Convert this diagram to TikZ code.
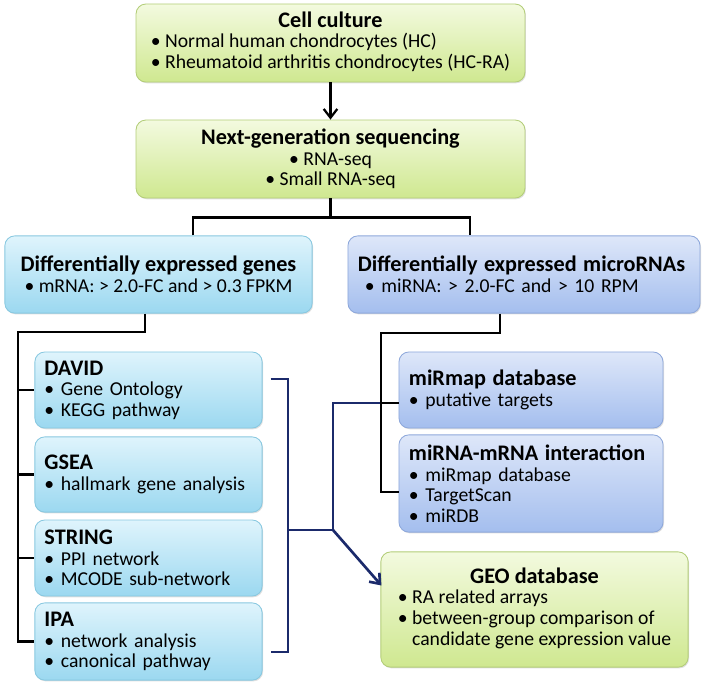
\documentclass[tikz,border=0pt]{standalone}
\usepackage{fontspec}
\setmainfont{Carlito}
\usetikzlibrary{arrows.meta,calc,shadows}
\definecolor{LeafTop}{HTML}{F3FADF}
\definecolor{LeafBot}{HTML}{CFE890}
\definecolor{LeafEdge}{HTML}{B3CD78}
\definecolor{SkyTop}{HTML}{DFF4FC}
\definecolor{SkyBot}{HTML}{9BD8F0}
\definecolor{SkyEdge}{HTML}{88C8E0}
\definecolor{LavTop}{HTML}{DEE7F9}
\definecolor{LavBot}{HTML}{A4BEEE}
\definecolor{LavEdge}{HTML}{8EA8DB}
\definecolor{Navy}{HTML}{1B2A6B}
\newcommand{\hd}[1]{{\fontsize{15.8}{17}\selectfont\bfseries #1}}
\newcommand{\bl}{\textbullet\ }

\begin{document}
\begin{tikzpicture}[x=0.025cm,y=-0.025cm,
    card/.style={rounded corners=7pt,draw,line width=0.6pt,inner sep=0pt,
      font=\fontsize{14}{14.6}\selectfont,
      drop shadow={shadow xshift=0.7pt,shadow yshift=-0.9pt,opacity=0.25}},
    leaf/.style={card,draw=LeafEdge,top color=LeafTop,bottom color=LeafBot},
    sky/.style={card,draw=SkyEdge,top color=SkyTop,bottom color=SkyBot},
    lav/.style={card,draw=LavEdge,top color=LavTop,bottom color=LavBot},
    tree/.style={line width=1.6pt,black},
    link/.style={line width=1.9pt,Navy},
    tip/.style={-{Straight Barb[length=2.2mm,width=3.4mm]}}]
  \useasboundingbox (0,0) rectangle (706,687);

  % top of the flow
  \node[leaf,align=center,minimum width=9.72cm,minimum height=1.95cm] (cell) at (330.5,43)
       {\hd{Cell culture}\\ \begin{tabular}[t]{@{}l@{}}\bl Normal human chondrocytes (HC)\\
        \bl Rheumatoid arthritis chondrocytes (HC-RA)\end{tabular}};
  \node[leaf,align=center,minimum width=9.72cm,minimum height=1.95cm] (ngs) at (330.5,159)
       {\hd{Next-generation sequencing}\\ \bl RNA-seq\\ \bl Small RNA-seq};

  % the two branches
  \node[sky,align=center,minimum width=7.68cm,minimum height=1.93cm] (deg) at (158.5,274.5)
       {\hd{Differentially expressed genes}\\ \bl mRNA: > 2.0-FC and > 0.3 FPKM};
  \node[lav,align=left,text width=8.3cm,minimum width=8.8cm,minimum height=1.93cm] (dem) at (524,274.5)
       {\hd{Differentially expressed microRNAs}\\ \hspace*{5pt}\bl miRNA: > 2.0-FC and > 10 RPM};

  % gene tools
  \node[sky,align=left,text width=5.2cm,minimum width=5.68cm,minimum height=1.9cm] (david) at (148.5,390)
       {\hd{DAVID}\\ \bl Gene Ontology\\ \bl KEGG pathway};
  \node[sky,align=left,text width=5.2cm,minimum width=5.68cm,minimum height=1.88cm] (gsea) at (148.5,474.5)
       {\hd{GSEA}\\ \bl hallmark gene analysis};
  \node[sky,align=left,text width=5.2cm,minimum width=5.68cm,minimum height=1.9cm] (string) at (148.5,558)
       {\hd{STRING}\\ \bl PPI network\\ \bl MCODE sub-network};
  \node[sky,align=left,text width=5.2cm,minimum width=5.68cm,minimum height=1.93cm] (ipa) at (148.5,641.5)
       {\hd{IPA}\\ \bl network analysis\\ \bl canonical pathway};

  % microRNA tools
  \node[lav,align=left,text width=6.1cm,minimum width=6.6cm,minimum height=1.9cm] (mirmap) at (531,390)
       {\hd{miRmap database}\\ \bl putative targets};
  \node[lav,align=left,text width=6.1cm,minimum width=6.6cm,minimum height=2.43cm] (inter) at (531,483.5)
       {\hd{miRNA-mRNA interaction}\\ \bl miRmap database\\ \bl TargetScan\\ \bl miRDB};

  \node[leaf,align=center,minimum width=7.68cm,minimum height=2.88cm] (geo) at (534.5,609.5)
       {\hd{GEO database}\\ \begin{tabular}[t]{@{}l@{}}\bl RA related arrays\\
        \bl between-group comparison of\\ \phantom{\textbullet}\ candidate gene expression value\end{tabular}};

  % navy bracket and links
  \coordinate (btop) at ($(david.east)+(8,-11)$);
  \coordinate (bbot) at ($(ipa.east)+(8,10.5)$);
  \coordinate (bmid) at (288,530);
  \coordinate (hub) at (333,530);
  \coordinate (mirin) at ($(mirmap.west)+(0,13)$);
  \draw[link] (btop) -| (bmid) |- (bbot);
  \draw[link] (bmid) -- (hub) |- (mirin);
  \draw[link,tip] (hub) -- ($(geo.west)+(1,-24)$);

  % black tree
  \draw[tree,tip] (cell) -- (ngs);
  \draw[tree] (ngs.south) -- ($(ngs.south)+(0,19)$) coordinate (split);
  \draw[tree] ($(deg.north)+(34.5,0)$) |- (split) -| ($(dem.north)+(-54,0)$);
  \coordinate (lspine) at (18,332);
  \draw[tree] ($(deg.south)+(-13.5,0)$) |- (lspine) |- (ipa.west);
  \foreach \n in {david,gsea,string}
    \draw[tree] (lspine |- \n.west) -- (\n.west);
  \coordinate (rspine) at (381,333);
  \draw[tree] ($(dem.south)+(-24,0)$) |- (rspine) |- ($(inter.west)+(0,8.5)$);
  \draw[tree] (rspine |- mirin) -- (mirin);
\end{tikzpicture}
\end{document}
